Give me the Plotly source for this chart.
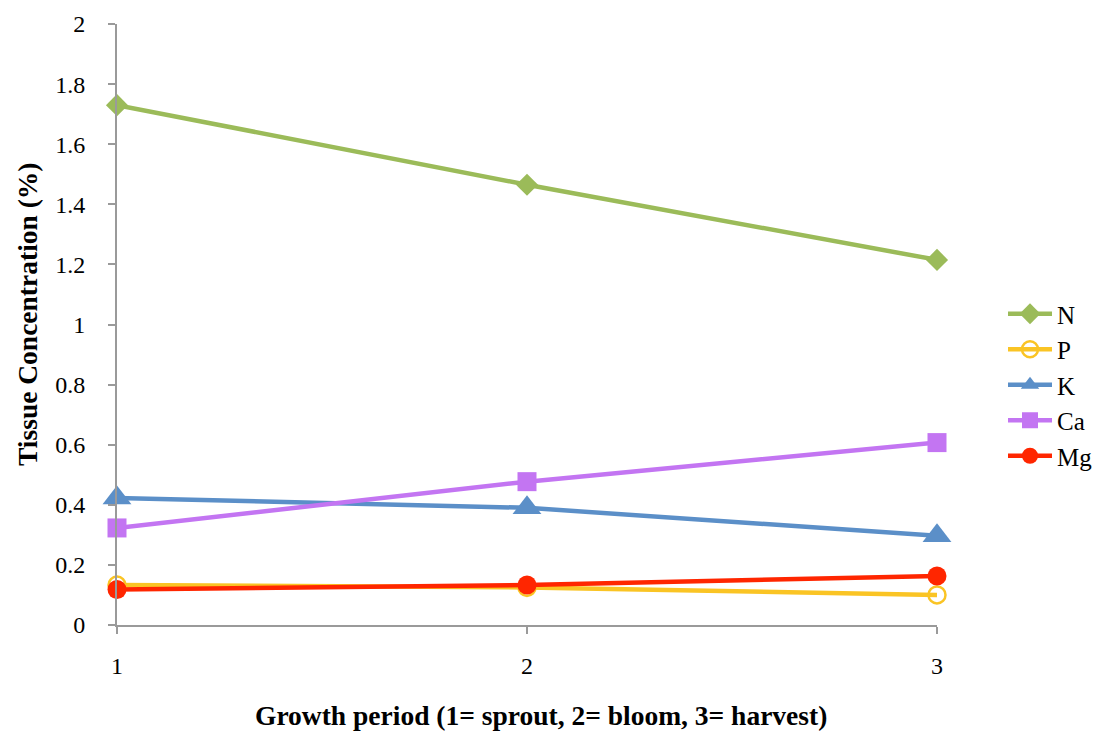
import plotly.graph_objects as go

periods = [1, 2, 3]
N = [1.73, 1.465, 1.215]
P = [0.133, 0.125, 0.100]
K = [0.423, 0.390, 0.297]
Ca = [0.323, 0.477, 0.607]
Mg = [0.118, 0.133, 0.163]

series = [
    ("N", N, "#9BBB59", "diamond", 17),
    ("P", P, "#FAC424", "circle-open", 17),
    ("K", K, "#5B8FC8", "triangle-up", 25),
    ("Ca", Ca, "#C375F2", "square", 19),
    ("Mg", Mg, "#FF2600", "circle", 19),
]

FAM = "Liberation Serif"

fig = go.Figure()
for name, vals, color, sym, size in series:
    fig.add_trace(go.Scatter(
        x=periods, y=vals, name=name, mode="lines+markers",
        line=dict(color=color, width=4.5),
        marker=dict(symbol=sym, size=size, color=color,
                    line=dict(color=color, width=2.5 if sym == "circle-open" else 0)),
        cliponaxis=False,
    ))

# page has an 8px body margin; compensate so plot area sits at x 117..937, y 24..625
OFF = 8
W, H = 1105 - OFF, 732 - OFF
PX0, PX1, PY0, PY1 = 117, 937, 24, 625
L, T = PX0 - OFF, PY0 - OFF
R, B = W - (PX1 - OFF), H - (PY1 - OFF)
pw, ph = PX1 - PX0, PY1 - PY0

fig.update_layout(
    width=W, height=H,
    margin=dict(l=L, r=R, t=T, b=B, autoexpand=False),
    paper_bgcolor="white", plot_bgcolor="white",
    font=dict(family=FAM, size=24, color="black"),
    legend=dict(x=(1003 - PX0) / pw, xanchor="left", y=(PY1 - 385) / ph, yanchor="middle",
                font=dict(family=FAM, size=25, color="black"), tracegroupgap=0, itemwidth=44),
    showlegend=True,
    annotations=[
        dict(text="<b>Growth period (1= sprout, 2= bloom, 3= harvest)</b>",
             xref="paper", yref="paper", x=(541 - PX0) / pw, y=(PY1 - 715) / ph,
             xanchor="center", yanchor="middle", showarrow=False,
             font=dict(family=FAM, size=27.5, color="black")),
        dict(text="<b>Tissue Concentration (%)</b>",
             xref="paper", yref="paper", x=(27 - PX0) / pw, y=(PY1 - 314) / ph,
             xanchor="center", yanchor="middle", textangle=-90, showarrow=False,
             font=dict(family=FAM, size=27.5, color="black")),
    ],
)
fig.update_xaxes(
    range=[1, 3], tickvals=periods, ticktext=["1", "2", "3"], automargin=False,
    showgrid=False, zeroline=False, showline=True, linecolor="#9a9a9a", linewidth=2,
    ticks="outside", ticklen=7, tickwidth=2, tickcolor="#9a9a9a", ticklabelstandoff=11,
    tickfont=dict(family=FAM, size=24, color="black"),
)
fig.update_yaxes(
    range=[0, 2], tickvals=[0, 0.2, 0.4, 0.6, 0.8, 1, 1.2, 1.4, 1.6, 1.8, 2],
    ticktext=["0", "0.2", "0.4", "0.6", "0.8", "1", "1.2", "1.4", "1.6", "1.8", "2"],
    automargin=False,
    showgrid=False, zeroline=False, showline=True, linecolor="#9a9a9a", linewidth=2,
    ticks="outside", ticklen=7, tickwidth=2, tickcolor="#9a9a9a", ticklabelstandoff=18,
    tickfont=dict(family=FAM, size=24, color="black"),
)

fig.write_html("out.html")
